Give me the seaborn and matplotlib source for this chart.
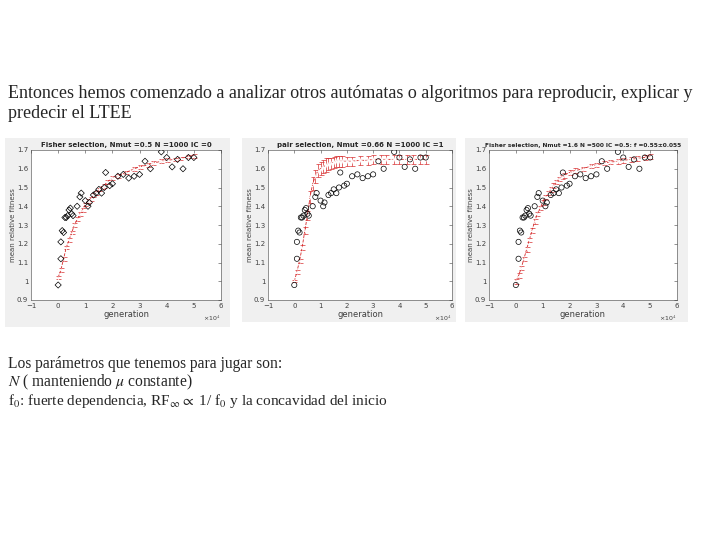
import matplotlib
matplotlib.use('Agg')
import matplotlib.pyplot as plt
from matplotlib.patches import Rectangle
import pandas as pd
import seaborn as sns

# LTEE data points (generation in units of 1e4, mean relative fitness)
exp_gen = [0.0, 0.1, 0.1, 0.15, 0.2, 0.25, 0.3, 0.35, 0.4, 0.45, 0.5, 0.55, 0.7,
           0.8, 0.85, 1.0, 1.1, 1.15, 1.3, 1.4, 1.5, 1.6, 1.7, 1.75, 1.9, 2.0,
           2.2, 2.4, 2.6, 2.8, 3.0, 3.2, 3.4, 3.8, 4.0, 4.2, 4.4, 4.6, 4.8, 5.0]
exp_fit = [0.98, 1.12, 1.21, 1.27, 1.26, 1.34, 1.34, 1.35, 1.38, 1.39, 1.36, 1.35, 1.40,
           1.45, 1.47, 1.43, 1.40, 1.42, 1.46, 1.47, 1.49, 1.47, 1.50, 1.58, 1.51, 1.52,
           1.56, 1.57, 1.55, 1.56, 1.57, 1.64, 1.60, 1.69, 1.66, 1.61, 1.65, 1.60, 1.66, 1.66]

# simulated means for each automaton
sim_gen = [0.0, 0.1, 0.2, 0.3, 0.4, 0.5, 0.6, 0.7, 0.8, 0.9, 1.0, 1.1, 1.2, 1.3, 1.4,
           1.5, 1.6, 1.7, 1.8, 2.0, 2.2, 2.5, 2.8, 3.0, 3.3, 3.5, 3.8, 4.0, 4.3, 4.5, 4.8, 5.0]
fisher_fit = [1.02, 1.06, 1.12, 1.18, 1.22, 1.26, 1.30, 1.33, 1.36, 1.38, 1.41, 1.43, 1.44,
              1.46, 1.47, 1.49, 1.50, 1.51, 1.53, 1.55, 1.56, 1.58, 1.60, 1.61, 1.62, 1.63,
              1.64, 1.645, 1.65, 1.655, 1.665, 1.67]
fisher_err = [0.01] * 32
pair_fit = [1.00, 1.05, 1.11, 1.18, 1.27, 1.35, 1.45, 1.52, 1.56, 1.59, 1.60, 1.61, 1.62,
            1.625, 1.63, 1.635, 1.64, 1.64, 1.64, 1.64, 1.64, 1.645, 1.645, 1.65, 1.65, 1.65,
            1.65, 1.65, 1.65, 1.65, 1.65, 1.65]
pair_err = [0.005, 0.01, 0.01, 0.015, 0.02, 0.025, 0.03, 0.035, 0.035, 0.035, 0.035, 0.035,
            0.035, 0.03, 0.03, 0.03, 0.03, 0.03, 0.03, 0.025, 0.025, 0.025, 0.025, 0.025,
            0.025, 0.025, 0.025, 0.025, 0.025, 0.025, 0.025, 0.025]
fisher2_fit = [1.00, 1.03, 1.07, 1.12, 1.17, 1.22, 1.27, 1.32, 1.36, 1.39, 1.42, 1.45, 1.47,
               1.49, 1.51, 1.53, 1.545, 1.555, 1.565, 1.58, 1.59, 1.60, 1.615, 1.62, 1.63,
               1.635, 1.64, 1.645, 1.65, 1.655, 1.66, 1.665]
fisher2_err = [0.012] * 32

titles = ['Fisher selection, Nmut =0.5 N =1000 IC =0',
          'pair selection, Nmut =0.66 N =1000 IC =1',
          'Fisher selection, Nmut =1.6 N =500 IC =0.5: f =0.55\u00b10.055']
ylabels = ['mean relative fitness', 'mean relative fitness', 'mean relative fitness']
sims = [(fisher_fit, fisher_err, 'D', 10, 5), (pair_fit, pair_err, 'o', 14, 5),
        (fisher2_fit, fisher2_err, 'o', 14, 4.2)]

sns.set_style('white')
plt.rcParams['font.family'] = ['DejaVu Sans']
plt.rcParams['mathtext.fontset'] = 'stix'

fig = plt.figure(figsize=(7.2, 5.4), dpi=100)
fig.patch.set_facecolor('white')

boxes = [(5, 138, 225, 189), (242, 138, 214, 184), (465, 138, 223, 184)]
axpos = [(31, 221), (268, 452), (489, 677)]

exp_df = pd.DataFrame({'gen': exp_gen, 'fit': exp_fit})

for i in range(3):
    bx, by, bw, bh = boxes[i]
    fig.patches.append(Rectangle((bx / 720, 1 - (by + bh) / 540), bw / 720, bh / 540,
                                 transform=fig.transFigure, facecolor='#f0f0f0',
                                 edgecolor='none', zorder=-5))
    l, r = axpos[i]
    ax = fig.add_axes([l / 720, 240 / 540, (r - l) / 720, 150 / 540])
    ax.set_facecolor('white')
    fit, err, mk, msize, tsize = sims[i]
    sim_df = pd.DataFrame({'gen': sim_gen, 'fit': fit})
    ax.errorbar(sim_gen, fit, yerr=err, fmt='none', ecolor='#d62728', elinewidth=0.6,
                capsize=1.8, capthick=0.6, alpha=0.8)
    sns.lineplot(data=sim_df, x='gen', y='fit', ax=ax, color='#d62728', lw=0.6,
                 linestyle='--', marker='+', markersize=3, markeredgewidth=0.6)
    sns.scatterplot(data=exp_df, x='gen', y='fit', ax=ax, marker=mk, s=msize,
                    facecolor='none', edgecolor='black', linewidth=0.5, zorder=3)
    ax.set_xlim(-1, 6)
    ax.set_ylim(0.9, 1.7)
    ax.set_xticks(range(-1, 7))
    ax.set_yticks([0.9, 1, 1.1, 1.2, 1.3, 1.4, 1.5, 1.6, 1.7])
    ax.set_yticklabels(['0.9', '1', '1.1', '1.2', '1.3', '1.4', '1.5', '1.6', '1.7'])
    ax.tick_params(direction='in', length=2, width=0.4, labelsize=5, top=True, right=True,
                   pad=2, colors='#404040')
    for s in ax.spines.values():
        s.set_linewidth(0.4)
        s.set_color('#404040')
    ax.set_title(titles[i], fontsize=tsize, fontweight='bold', pad=2)
    ax.set_xlabel('generation', fontsize=6, labelpad=1, color='#404040')
    ax.set_ylabel(ylabels[i], fontsize=5, labelpad=1, color='#404040')
    ax.text(1.0, -0.09, '\u00d710$^4$', transform=ax.transAxes, fontsize=4.5,
            ha='right', va='top', color='#404040')

serif = ['Liberation Serif', 'DejaVu Serif']
fig.text(8 / 720, 1 - 93 / 540, 'Entonces hemos comenzado a analizar otros autómatas o algoritmos para reproducir, explicar y',
         fontsize=13, family=serif, va='center')
fig.text(8 / 720, 1 - 113 / 540, 'predecir el LTEE', fontsize=13, family=serif, va='center')

fig.text(8 / 720, 1 - 364 / 540, 'Los parámetros que tenemos para jugar son:',
         fontsize=11.2, family=serif, va='center')
fig.text(8 / 720, 1 - 382 / 540, r'$\it{N}$ ( manteniendo $\mu$ constante)',
         fontsize=11.2, family=serif, va='center')
fig.text(8 / 720, 1 - 401 / 540, r'f$_0$: fuerte dependencia, RF$_\infty$$\propto$ 1/ f$_0$ y la concavidad del inicio',
         fontsize=11, family=serif, va='center')

fig.savefig('out.png', dpi=100)
